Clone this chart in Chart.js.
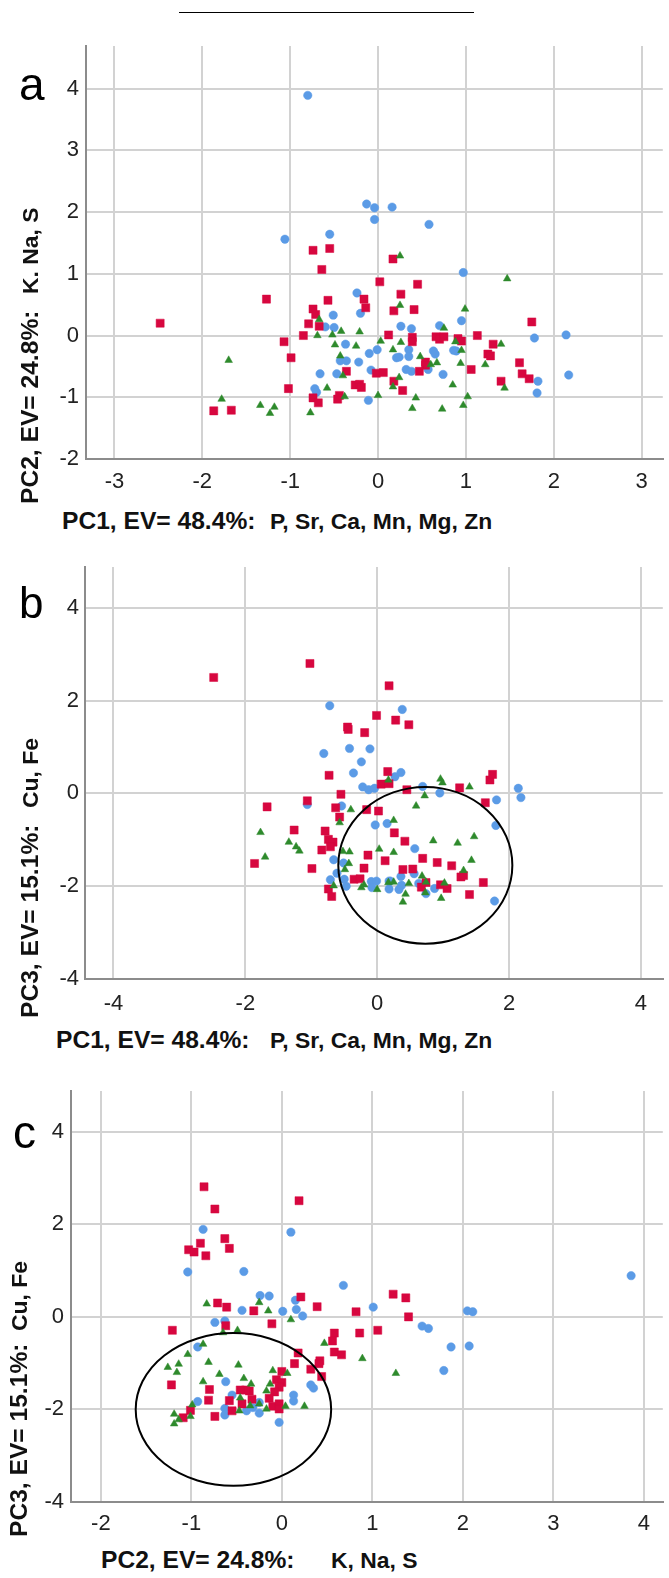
<!DOCTYPE html>
<html><head><meta charset="utf-8">
<script src="https://cdn.jsdelivr.net/npm/chart.js@4.4.0/dist/chart.umd.min.js"></script>
<style>
html,body{margin:0;padding:0;background:#fff;}
#wrap{position:relative;width:669px;height:1578px;overflow:hidden;font-family:'Liberation Sans',Arial,sans-serif;}
canvas{position:absolute;left:0;}
.t{position:absolute;white-space:nowrap;line-height:1;color:#111;font-weight:bold;}
.p1{font-size:24.6px;}
.p2{font-size:22.9px;}
.r{transform-origin:0 0;transform:rotate(-90deg);}
.lt{position:absolute;line-height:1;color:#000;white-space:nowrap;}
</style></head>
<body><div id="wrap">
<div style="position:absolute;left:179px;top:12px;width:295px;border-top:1px solid #000;"></div>

<canvas id="ca" width="669" height="500" style="top:0px"></canvas>
<canvas id="cb" width="669" height="480" style="top:540px"></canvas>
<canvas id="cc" width="669" height="480" style="top:1060px"></canvas>

<div class="lt" style="left:19px;top:61px;font-size:46px;">a</div>
<div class="lt" style="left:19px;top:581px;font-size:44px;">b</div>
<div class="lt" style="left:13px;top:1109px;font-size:46px;">c</div>

<div class="t p1" style="left:62px;top:509px;">PC1, EV= 48.4%:</div>
<div class="t p2" style="left:270px;top:510px;">P, Sr, Ca, Mn, Mg, Zn</div>
<div class="t p1 r" style="left:17.6px;top:504px;">PC2, EV= 24.8%:</div>
<div class="t p2 r" style="left:19px;top:294px;">K. Na, S</div>

<div class="t p1" style="left:56px;top:1028px;">PC1, EV= 48.4%:</div>
<div class="t p2" style="left:270px;top:1029px;">P, Sr, Ca, Mn, Mg, Zn</div>
<div class="t p1 r" style="left:17.6px;top:1018px;">PC3, EV= 15.1%:</div>
<div class="t p2 r" style="left:19px;top:808px;">Cu, Fe</div>

<div class="t p1" style="left:101px;top:1548px;">PC2, EV= 24.8%:</div>
<div class="t p2" style="left:331px;top:1549px;">K, Na, S</div>
<div class="t p1 r" style="left:6.6px;top:1537px;">PC3, EV= 15.1%:</div>
<div class="t p2 r" style="left:8px;top:1331px;">Cu, Fe</div>
</div>
<script>
// ---------- Panel a : PC1 (x) vs PC2 (y) ----------
const aBlue = [[-0.80,3.89],[-0.13,2.13],[-0.04,2.07],[0.16,2.08],[-0.04,1.88],[0.58,1.80],[-1.06,1.56],[-0.55,1.64],[0.97,1.02],[-0.24,0.69],[-0.20,0.36],[-0.51,0.33],[-0.60,0.14],[-0.50,0.13],[0.26,0.15],[0.38,0.11],[0.70,0.16],[0.95,0.24],[1.78,-0.04],[2.14,0.01],[-0.37,-0.14],[-0.01,-0.23],[-0.10,-0.29],[0.35,-0.23],[0.35,-0.34],[0.21,-0.36],[0.24,-0.35],[0.63,-0.25],[0.65,-0.30],[0.86,-0.24],[0.89,-0.25],[-0.43,-0.41],[-0.36,-0.41],[-0.22,-0.43],[-0.66,-0.62],[-0.47,-0.62],[-0.08,-0.56],[0.32,-0.55],[0.38,-0.58],[0.57,-0.55],[0.74,-0.63],[-0.72,-0.86],[-0.70,-0.92],[-0.11,-1.05],[1.82,-0.74],[1.81,-0.93],[2.17,-0.64]];
const aRed = [[-0.74,1.38],[-0.55,1.41],[0.17,1.24],[-0.64,1.07],[0.02,0.87],[0.45,0.83],[0.26,0.67],[-1.27,0.59],[-0.57,0.57],[-0.16,0.59],[-0.14,0.45],[0.18,0.40],[0.41,0.42],[-0.74,0.43],[-0.71,0.34],[-0.79,0.19],[-0.67,0.15],[-0.85,0.00],[0.12,0.01],[0.39,-0.03],[0.39,-0.10],[0.66,-0.02],[0.70,-0.06],[0.75,-0.02],[0.91,-0.05],[0.95,-0.09],[1.13,0.00],[1.75,0.22],[-2.48,0.20],[-1.07,-0.10],[-0.99,-0.36],[0.54,-0.43],[0.54,-0.48],[0.47,-0.58],[-0.36,-0.58],[-0.02,-0.61],[0.06,-0.60],[0.18,-0.74],[0.28,-0.89],[-1.02,-0.86],[-0.26,-0.80],[-0.21,-0.79],[-0.19,-0.84],[-0.44,-0.97],[-0.46,-1.03],[-0.74,-1.01],[-0.68,-1.09],[-1.87,-1.22],[-1.67,-1.21],[1.31,-0.14],[1.25,-0.30],[1.28,-0.33],[1.06,-0.55],[1.61,-0.44],[1.64,-0.62],[1.72,-0.70],[1.40,-0.74]];
const aGreen = [[0.25,1.29],[1.47,0.92],[0.25,0.49],[0.99,0.43],[-0.67,0.26],[0.75,0.12],[-0.42,0.07],[-0.21,0.06],[-0.69,0.00],[-0.52,0.01],[-0.49,-0.15],[-0.25,-0.17],[0.03,-0.09],[0.26,-0.11],[0.17,-0.23],[0.95,-0.24],[0.88,-0.10],[0.48,-0.34],[-0.43,-0.33],[0.60,-0.47],[0.67,-0.44],[0.94,-0.45],[1.22,-0.47],[1.40,-0.14],[-0.40,-0.65],[0.24,-0.68],[0.17,-0.83],[-0.58,-0.85],[0.85,-0.80],[1.44,-0.85],[-0.38,-0.99],[0.00,-0.97],[0.43,-1.01],[1.02,-0.99],[0.39,-1.18],[0.73,-1.19],[0.97,-1.13],[-0.77,-1.25],[-1.70,-0.40],[-1.78,-1.03],[-1.34,-1.13],[-1.18,-1.16],[-1.23,-1.26]];
const aTicksX = [-3,-2,-1,0,1,2,3];
const aTicksY = [-2,-1,0,1,2,3,4];

// ---------- Panel b : PC1 (x) vs PC3 (y) ----------
const bBlue = [[-0.72,1.89],[0.38,1.81],[-0.42,0.97],[-0.11,0.96],[-0.81,0.86],[-0.24,0.68],[-0.36,0.44],[0.36,0.45],[0.27,0.36],[-0.22,0.14],[-0.13,0.08],[-0.04,0.11],[0.69,0.15],[0.95,0.01],[2.14,0.11],[2.18,-0.09],[1.81,-0.14],[1.80,-0.69],[-1.06,-0.24],[-0.54,-0.27],[-0.03,-0.68],[0.15,-0.65],[0.57,-1.19],[-0.66,-1.43],[-0.51,-1.50],[-0.61,-1.72],[0.36,-1.79],[0.56,-1.73],[-0.71,-1.86],[-0.50,-1.85],[-0.47,-2.00],[-0.09,-1.90],[-0.01,-1.89],[-0.08,-2.03],[0.18,-1.89],[0.18,-2.06],[0.37,-1.98],[0.33,-2.07],[0.20,-1.89],[0.63,-1.94],[0.87,-2.05],[0.74,-2.16],[1.78,-2.32]];
const bRed = [[-2.48,2.50],[-1.02,2.80],[0.18,2.32],[-0.01,1.68],[0.28,1.58],[0.48,1.48],[-0.45,1.43],[-0.44,1.38],[-0.19,1.31],[-0.73,0.39],[0.16,0.47],[0.06,0.20],[0.18,0.21],[0.45,0.08],[1.25,0.12],[1.71,0.29],[1.75,0.41],[1.64,-0.20],[-0.55,-0.02],[-1.06,-0.16],[-1.67,-0.29],[-0.63,-0.31],[-0.16,-0.35],[0.02,-0.38],[-0.57,-0.51],[0.26,-0.85],[0.42,-1.03],[-1.26,-0.79],[-0.79,-0.81],[-0.74,-0.99],[-0.67,-1.05],[-0.71,-1.15],[-0.84,-1.22],[-1.86,-1.51],[-0.99,-1.62],[-0.14,-1.33],[0.12,-1.45],[-0.20,-1.61],[0.39,-1.64],[0.54,-1.63],[0.69,-1.40],[0.91,-1.49],[1.13,-1.56],[1.27,-1.80],[1.31,-1.77],[1.61,-1.92],[1.40,-2.18],[-0.35,-1.85],[-0.26,-1.84],[-0.74,-2.06],[-0.69,-2.22],[0.74,-1.92],[0.67,-2.02],[0.96,-1.97],[1.06,-2.05]];
const bGreen = [[-0.40,-0.35],[-0.57,-0.63],[0.25,-0.58],[0.59,-0.27],[0.72,-0.05],[0.96,0.31],[0.99,0.23],[1.40,0.14],[0.17,0.29],[-1.77,-0.84],[-1.34,-1.05],[-1.23,-1.15],[-1.18,-1.24],[-1.70,-1.37],[-0.52,-1.25],[-0.42,-1.26],[-0.43,-1.51],[-0.49,-1.64],[0.03,-1.20],[0.25,-1.27],[-0.66,-1.99],[-0.24,-2.03],[-0.20,-1.97],[0.00,-2.07],[0.17,-1.92],[0.25,-1.91],[0.48,-1.94],[0.43,-2.17],[0.39,-2.34],[0.85,-1.02],[1.22,-1.07],[1.47,-0.93],[1.43,-1.44],[1.31,-1.66],[0.68,-1.78],[0.74,-1.91],[1.02,-1.93],[0.97,-2.26],[0.73,-2.14]];
const bTicksX = [-4,-2,0,2,4];
const bTicksY = [-4,-2,0,2,4];
const bEllipse = [0.73, -1.55, 1.32, 1.69]; // centre x, centre y, radius x, radius y (data units)

// ---------- Panel c : PC2 (x) vs PC3 (y) ----------
const cBlue = [[-0.87,1.89],[0.10,1.83],[-1.04,0.97],[-0.42,0.98],[0.68,0.68],[-0.24,0.46],[-0.14,0.45],[0.15,0.36],[-0.44,0.14],[0.01,0.12],[0.16,0.16],[0.23,0.02],[-0.74,-0.12],[-0.63,-0.09],[3.86,0.89],[1.01,0.21],[2.05,0.13],[2.11,0.11],[1.55,-0.20],[1.62,-0.25],[1.87,-0.65],[2.07,-0.63],[1.79,-1.16],[0.32,-1.47],[0.35,-1.54],[0.13,-1.69],[0.13,-1.82],[-0.03,-2.28],[-0.25,-1.85],[-0.25,-2.08],[-0.32,-1.96],[-0.39,-2.03],[-0.55,-1.69],[-0.62,-1.40],[-0.63,-1.98],[-0.63,-2.12],[-0.93,-1.83],[-0.93,-0.65]];
const cRed = [[-0.86,2.81],[-0.74,2.33],[0.19,2.51],[-0.63,1.69],[-0.58,1.48],[-0.90,1.59],[-1.03,1.45],[-0.97,1.40],[-0.84,1.32],[0.21,0.43],[0.39,0.22],[-0.71,0.30],[-0.61,0.21],[-0.31,0.13],[-0.62,-0.19],[-1.21,-0.29],[-0.11,-0.15],[0.58,-0.35],[0.56,-0.52],[1.23,0.49],[1.37,0.41],[0.82,0.11],[1.40,0.00],[1.06,-0.29],[0.86,-0.35],[0.58,-0.76],[0.66,-0.82],[0.18,-0.78],[0.14,-1.01],[0.42,-0.95],[0.41,-1.01],[0.32,-1.13],[0.44,-1.29],[0.00,-1.18],[-0.06,-1.36],[0.00,-1.42],[-0.03,-1.52],[-0.08,-1.62],[-0.14,-1.76],[-0.10,-1.93],[-0.03,-1.88],[-0.03,-1.99],[-0.33,-1.78],[-0.36,-1.60],[-0.40,-1.58],[-0.46,-1.58],[-0.44,-1.88],[-0.55,-2.03],[-0.58,-1.81],[-0.80,-1.57],[-0.81,-1.80],[-0.74,-2.15],[-1.01,-2.02],[-1.09,-2.18],[-1.22,-1.47]];
const cGreen = [[-0.83,0.28],[-0.25,0.31],[-0.15,0.13],[0.10,-0.06],[-0.65,-0.34],[-0.49,-0.29],[0.47,-0.57],[0.89,-0.90],[1.26,-1.22],[0.25,-1.93],[-0.10,-1.16],[0.06,-1.22],[-0.13,-1.45],[-0.17,-1.60],[-0.17,-1.99],[-0.25,-1.88],[0.04,-1.93],[-0.47,-2.03],[-0.42,-1.33],[-0.48,-1.04],[-0.34,-1.45],[-0.46,-1.75],[-0.35,-1.92],[-0.69,-1.24],[-0.81,-0.98],[-0.87,-1.40],[-0.99,-1.90],[-1.01,-2.15],[-1.14,-2.22],[-1.19,-2.10],[-1.19,-2.31],[-1.26,-1.09],[-1.16,-1.20],[-1.14,-1.02],[-1.04,-0.81],[-0.87,-0.59]];
const cTicksX = [-2,-1,0,1,2,3,4];
const cTicksY = [-4,-2,0,2,4];
const cEllipse = [-0.535, -2.0, 1.08, 1.65];

Chart.defaults.font.family = "'Liberation Sans', Arial, sans-serif";
const BLUE = '#5b9be6', RED = '#d7073f', GREEN = '#2e8a2c';
const pts = arr => arr.map(p => ({x: p[0], y: p[1]}));

const ellipsePlugin = {
  id: 'ellipse',
  afterDatasetsDraw(chart, args, opts) {
    const e = opts.e;
    if (!e) return;
    const xs = chart.scales.x, ys = chart.scales.y;
    const cx = xs.getPixelForValue(e[0]), cy = ys.getPixelForValue(e[1]);
    const rx = Math.abs(xs.getPixelForValue(e[0] + e[2]) - cx);
    const ry = Math.abs(ys.getPixelForValue(e[1] + e[3]) - cy);
    const ctx = chart.ctx;
    ctx.save();
    ctx.beginPath();
    ctx.ellipse(cx, cy, rx, ry, 0, 0, Math.PI * 2);
    ctx.strokeStyle = '#000';
    ctx.lineWidth = 2;
    ctx.stroke();
    ctx.restore();
  }
};

function make(id, blue, red, green, xr, yr, xt, yt, cfg, ell) {
  new Chart(document.getElementById(id), {
    type: 'scatter',
    data: {
      datasets: [
        {data: pts(green), pointStyle: 'triangle', pointRadius: 4.4, backgroundColor: GREEN, borderColor: GREEN, borderWidth: 0.5},
        {data: pts(red), pointStyle: 'rect', pointRadius: 5.7, backgroundColor: RED, borderColor: RED, borderWidth: 0.5},
        {data: pts(blue), pointStyle: 'circle', pointRadius: 4.2, backgroundColor: BLUE, borderColor: BLUE, borderWidth: 0.5}
      ]
    },
    options: {
      responsive: false, animation: false, devicePixelRatio: 1,
      layout: {padding: {top: cfg.top, left: 0, right: 0, bottom: 0}},
      plugins: {legend: {display: false}, tooltip: {enabled: false}, ellipse: {e: ell}},
      scales: {
        x: {
          type: 'linear', min: xr[0], max: xr[1],
          afterBuildTicks: s => { s.ticks = xt.map(v => ({value: v})); },
          afterFit: s => { s.height = cfg.xH; },
          grid: {color: '#d2d2d2', lineWidth: 2, drawTicks: false},
          border: {color: '#8c8c8c', width: 2},
          ticks: {color: '#222', font: {size: 22}, padding: cfg.xPad, maxRotation: 0}
        },
        y: {
          type: 'linear', min: yr[0], max: yr[1],
          afterBuildTicks: s => { s.ticks = yt.map(v => ({value: v})); },
          afterFit: s => { s.width = cfg.yW; },
          grid: {color: '#d2d2d2', lineWidth: 2, drawTicks: false},
          border: {color: '#8c8c8c', width: 2},
          ticks: {color: '#222', font: {size: 22}, padding: cfg.yPad}
        }
      }
    },
    plugins: [ellipsePlugin]
  });
}

make('ca', aBlue, aRed, aGreen, [-3.324, 3.241], [-2, 4.69], aTicksX, aTicksY, {top: 46, xH: 41, yW: 86, xPad: 10, yPad: 7}, null);
make('cb', bBlue, bRed, bGreen, [-4.432, 4.332], [-4, 4.88], bTicksX, bTicksY, {top: 27, xH: 41, yW: 85, xPad: 12, yPad: 6}, bEllipse);
make('cc', cBlue, cRed, cGreen, [-2.33, 4.21], [-4, 4.88], cTicksX, cTicksY, {top: 31, xH: 38, yW: 71, xPad: 9, yPad: 7}, cEllipse);
</script>
</body></html>
